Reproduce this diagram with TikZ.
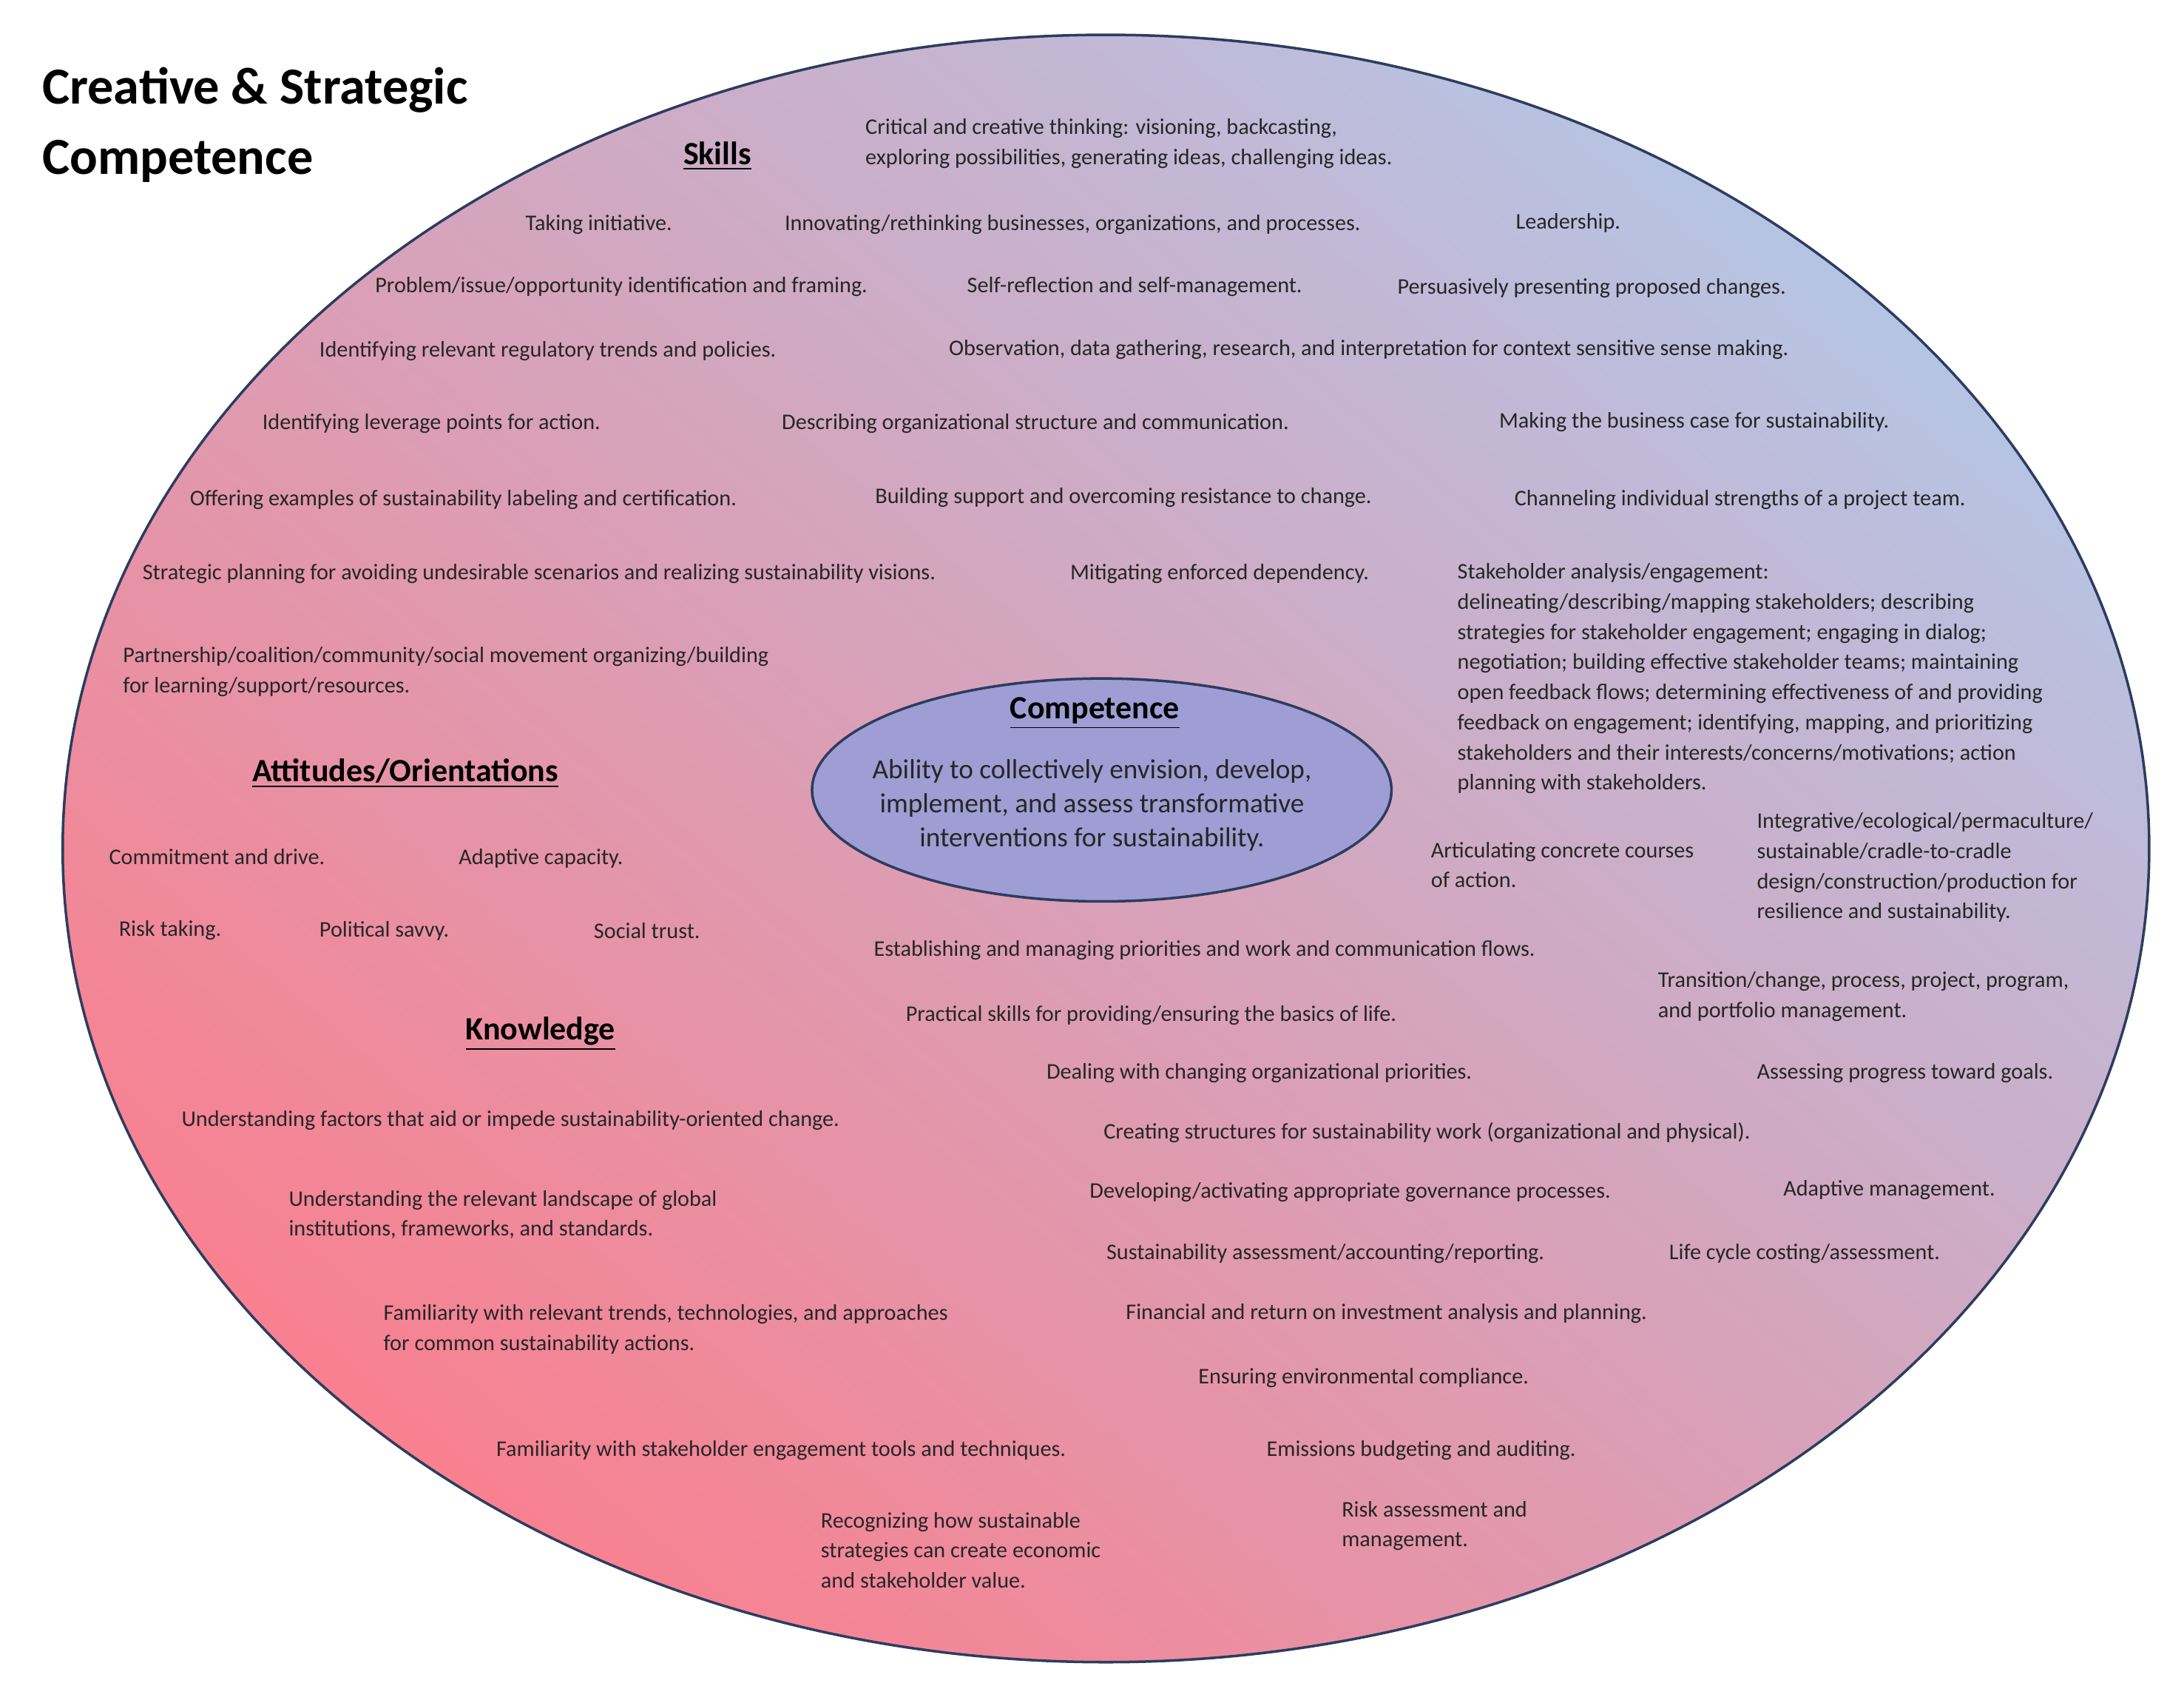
\documentclass[tikz,border=0pt]{standalone}
\usepackage{fontspec}
\setmainfont{Carlito}
\begin{document}
\begin{tikzpicture}[x=0.018833cm,y=-0.018833cm,
  t/.style={inner sep=0pt,font=\fontsize{8.6}{11.6}\selectfont,align=left,text=black!85},
  w/.style={t,anchor=west},
  nw/.style={t,anchor=north west},
  hd/.style={inner sep=0pt,font=\fontsize{12.5}{14}\selectfont\bfseries}]
\useasboundingbox (0,0) rectangle (1568,1222);
\definecolor{pinkr}{RGB}{249,128,143}
\definecolor{lblue}{RGB}{182,196,228}
\definecolor{edge}{RGB}{45,60,95}
\shade[top color=lblue,bottom color=pinkr,shading angle=-40,draw=edge,line width=1pt] (794,609) ellipse [x radius=749,y radius=584];
\draw[draw=edge,line width=1pt,fill={rgb,255:red,158;green,158;blue,212}] (791,567) ellipse [x radius=208,y radius=80];
\node[inner sep=0pt,anchor=north west,align=left,font=\fontsize{20}{27}\selectfont\bfseries] (title) at (30,48) {Creative \& Strategic\\Competence};
\node[hd] (skills) at (515,112) {\underline{Skills}};
\node[nw] (s1) at (621,85) {Critical and creative thinking: visioning, backcasting,\\exploring possibilities, generating ideas, challenging ideas.};
\node[w] (s2) at (377,161) {Taking initiative.};
\node[w] (s3) at (563,161) {Innovating/rethinking businesses, organizations, and processes.};
\node[w] (s4) at (1088,160) {Leadership.};
\node[w] (s5) at (269,206) {Problem/issue/opportunity identification and framing.};
\node[w] (s6) at (694,206) {Self-reflection and self-management.};
\node[w] (s7) at (1003,207) {Persuasively presenting proposed changes.};
\node[w] (s8) at (229,252) {Identifying relevant regulatory trends and policies.};
\node[w] (s9) at (681,251) {Observation, data gathering, research, and interpretation for context sensitive sense making.};
\node[w] (s10) at (188,304) {Identifying leverage points for action.};
\node[w] (s11) at (561,304) {Describing organizational structure and communication.};
\node[w] (s12) at (1076,303) {Making the business case for sustainability.};
\node[w] (s13) at (136,359) {Offering examples of sustainability labeling and certification.};
\node[w] (s14) at (628,357) {Building support and overcoming resistance to change.};
\node[w] (s15) at (1087,359) {Channeling individual strengths of a project team.};
\node[w] (s16) at (102,412) {Strategic planning for avoiding undesirable scenarios and realizing sustainability visions.};
\node[w] (s17) at (768,412) {Mitigating enforced dependency.};
\node[nw] (s18) at (1046,404) {Stakeholder analysis/engagement:\\delineating/describing/mapping stakeholders; describing\\strategies for stakeholder engagement; engaging in dialog;\\negotiation; building effective stakeholder teams; maintaining\\open feedback flows; determining effectiveness of and providing\\feedback on engagement; identifying, mapping, and prioritizing\\stakeholders and their interests/concerns/motivations; action\\planning with stakeholders.};
\node[nw] (s19) at (88,464) {Partnership/coalition/community/social movement organizing/building\\for learning/support/resources.};
\node[hd] (comp) at (786,512) {\underline{Competence}};
\node[t,align=center,font=\fontsize{10.6}{13}\selectfont] (abil) at (784,578) {Ability to collectively envision, develop,\\implement, and assess transformative\\interventions for sustainability.};
\node[hd] (att) at (291,555) {\underline{Attitudes/Orientations}};
\node[w] (a1) at (78,615) {Commitment and drive.};
\node[w] (a2) at (329,616) {Adaptive capacity.};
\node[w] (a3) at (85,668) {Risk taking.};
\node[w] (a4) at (229,668) {Political savvy.};
\node[w] (a5) at (426,668) {Social trust.};
\node[nw] (s20) at (1027,604) {Articulating concrete courses\\of action.};
\node[nw] (s21) at (1261,583) {Integrative/ecological/permaculture/\\sustainable/cradle-to-cradle\\design/construction/production for\\resilience and sustainability.};
\node[w] (s22) at (627,682) {Establishing and managing priorities and work and communication flows.};
\node[nw] (s23) at (1190,697) {Transition/change, process, project, program,\\and portfolio management.};
\node[hd] (know) at (388,742) {\underline{Knowledge}};
\node[w] (s24) at (650,729) {Practical skills for providing/ensuring the basics of life.};
\node[w] (s25) at (751,770) {Dealing with changing organizational priorities.};
\node[w] (s26) at (1261,770) {Assessing progress toward goals.};
\node[w] (k1) at (130,804) {Understanding factors that aid or impede sustainability-oriented change.};
\node[w] (s27) at (792,813) {Creating structures for sustainability work (organizational and physical).};
\node[nw] (k2) at (207,854) {Understanding the relevant landscape of global\\institutions, frameworks, and standards.};
\node[w] (s28) at (782,856) {Developing/activating appropriate governance processes.};
\node[w] (s29) at (1280,854) {Adaptive management.};
\node[w] (s30) at (794,900) {Sustainability assessment/accounting/reporting.};
\node[w] (s31) at (1198,900) {Life cycle costing/assessment.};
\node[nw] (k3) at (275,936) {Familiarity with relevant trends, technologies, and approaches\\for common sustainability actions.};
\node[w] (s32) at (808,943) {Financial and return on investment analysis and planning.};
\node[w] (s33) at (860,989) {Ensuring environmental compliance.};
\node[w] (k4) at (356,1041) {Familiarity with stakeholder engagement tools and techniques.};
\node[w] (s34) at (909,1041) {Emissions budgeting and auditing.};
\node[nw] (k5) at (589,1085) {Recognizing how sustainable\\strategies can create economic\\and stakeholder value.};
\node[nw] (s35) at (963,1077) {Risk assessment and\\management.};
\end{tikzpicture}
\end{document}
